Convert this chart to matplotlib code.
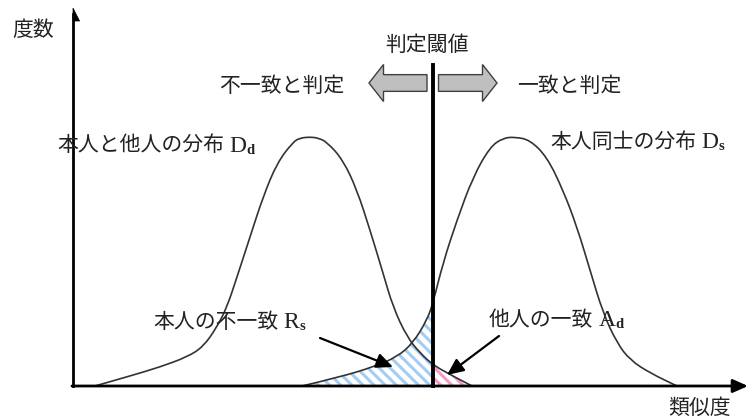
import numpy as np
import matplotlib.pyplot as plt
from matplotlib.patches import FancyArrow, Polygon, PathPatch, Rectangle
from matplotlib.path import Path

# 本人と他人の分布 Dd (類似度, 度数) - 図から読み取った点
dd_x = np.array([22, 57, 87, 114, 130, 144, 154, 164, 177, 190, 204, 220, 227,
                 237, 245, 254, 270, 284, 297, 310, 320, 334, 347, 360, 378, 399])
dd_y = np.array([0, 10, 19, 29, 39, 59, 79, 109, 149, 189, 223, 244, 248,
                 249, 248, 244, 226, 196, 156, 113, 79, 49, 33, 21, 11, 0])

# 本人同士の分布 Ds
ds_x = np.array([229, 267, 300, 324, 340, 354, 360, 370, 384, 400, 417, 430,
                 442, 457, 474, 490, 504, 517, 530, 544, 557, 577, 604])
ds_y = np.array([0, 9, 19, 29, 43, 66, 83, 123, 166, 209, 239, 248,
                 249, 246, 229, 196, 159, 116, 73, 43, 26, 13, 0])

threshold = 360

plt.rcParams['hatch.linewidth'] = 2.2
cjk = ['Noto Sans CJK JP', 'DejaVu Sans']
mix = ['Liberation Serif', 'Noto Sans CJK JP']
tc = '#222222'


def curve_path(xs, ys, close=False):
    # 読み取った点を制御点とする2次ベジェで滑らかに描く
    verts = [(xs[0], ys[0])]
    codes = [Path.MOVETO]
    for i in range(1, len(xs) - 1):
        verts += [(xs[i], ys[i]), ((xs[i] + xs[i + 1]) / 2, (ys[i] + ys[i + 1]) / 2)]
        codes += [Path.CURVE3, Path.CURVE3]
    verts.append((xs[-1], ys[-1]))
    codes.append(Path.LINETO)
    if close:
        verts.append((xs[0], ys[0]))
        codes.append(Path.CLOSEPOLY)
    return Path(verts, codes)


fig = plt.figure(figsize=(7.48, 4.18), dpi=100)
ax = fig.add_axes([0, 0, 1, 1])
ax.set_xlim(-73, 675)
ax.set_ylim(-32, 386)
ax.axis('off')

# 誤りの領域 (ハッチング)
blue = PathPatch(curve_path(ds_x, ds_y, close=True), facecolor='none',
                 edgecolor='#a3cdf5', hatch='\\\\\\', lw=0, zorder=1)
ax.add_patch(blue)
blue.set_clip_path(Rectangle((0, 0), threshold, 300, transform=ax.transData))
pink = PathPatch(curve_path(dd_x, dd_y, close=True), facecolor='none',
                 edgecolor='#f59acb', hatch='\\\\\\', lw=0, zorder=1)
ax.add_patch(pink)
pink.set_clip_path(Rectangle((threshold, 0), 300, 300, transform=ax.transData))

# 分布
ax.add_patch(PathPatch(curve_path(dd_x, dd_y), facecolor='none',
                       edgecolor='#333333', lw=1.2, zorder=2))
ax.add_patch(PathPatch(curve_path(ds_x, ds_y), facecolor='none',
                       edgecolor='#333333', lw=1.2, zorder=2))

# 判定閾値
ax.plot([threshold, threshold], [0, 321], color='k', lw=2.8, zorder=3)

# 軸
ax.plot([0, 0], [0, 372], color='k', lw=2, zorder=3)
ax.add_patch(Polygon([[0, 378], [6.6, 365], [0, 365]], closed=True,
                     facecolor='k', edgecolor='k', lw=0.5, zorder=3))
ax.annotate('', xy=(675, 0), xytext=(-1, 0),
            arrowprops=dict(arrowstyle='-|>,head_length=0.9,head_width=0.4',
                            lw=2, color='k', shrinkA=0, shrinkB=0), zorder=3)

# 判定方向の矢印
ax.add_patch(FancyArrow(354, 303, -58, 0, width=16.7, head_width=37,
                        head_length=14.5, length_includes_head=True,
                        facecolor='#bfbfbf', edgecolor='#404040', lw=1, zorder=3))
ax.add_patch(FancyArrow(365.5, 303, 58.5, 0, width=16.7, head_width=37,
                        head_length=14.5, length_includes_head=True,
                        facecolor='#bfbfbf', edgecolor='#404040', lw=1, zorder=3))

# テキスト
ax.text(-40, 356, '度数', family=cjk, fontsize=15, color=tc, ha='center', va='center')
ax.text(354, 341, '判定閾値', family=cjk, fontsize=15, color=tc, ha='center', va='center')
ax.text(209, 300, '不一致と判定', family=cjk, fontsize=15, color=tc, ha='center', va='center')
ax.text(496, 300, '一致と判定', family=cjk, fontsize=15, color=tc, ha='center', va='center')
ax.text(627, -22, '類似度', family=cjk, fontsize=15, color=tc, ha='center', va='center')

renderer = fig.canvas.get_renderer()
inv = ax.transData.inverted()


def label(x, y, s, letter, sub):
    t = ax.text(x, y, s, family=cjk, fontsize=15, color=tc, ha='left', va='center')
    bb = t.get_window_extent(renderer)
    x1 = inv.transform((bb.x1, bb.y0))[0]
    t2 = ax.text(x1 + 5, y - 1, letter, family=mix, fontsize=17, color=tc,
                 ha='left', va='center')
    bb = t2.get_window_extent(renderer)
    x2 = inv.transform((bb.x1, bb.y0))[0]
    ax.text(x2 + 0.5, y - 5, sub, family=mix, fontsize=10.5, color=tc,
            ha='left', va='center', fontweight='bold')


label(-16, 241, '本人と他人の分布', 'D', 'd')
label(477, 244, '本人同士の分布', 'D', 's')
label(80, 64, '本人の不一致', 'R', 's')
label(416, 66, '他人の一致', 'A', 'd')

# 指示矢印
arr = dict(arrowstyle='-|>,head_length=1.0,head_width=0.45', lw=1.6, color='k',
           shrinkA=0, shrinkB=0)
ax.annotate('', xy=(320, 19), xytext=(247, 48), arrowprops=arr, zorder=4)
ax.annotate('', xy=(374, 11), xytext=(426, 50), arrowprops=arr, zorder=4)

plt.savefig('out.png', dpi=100)
